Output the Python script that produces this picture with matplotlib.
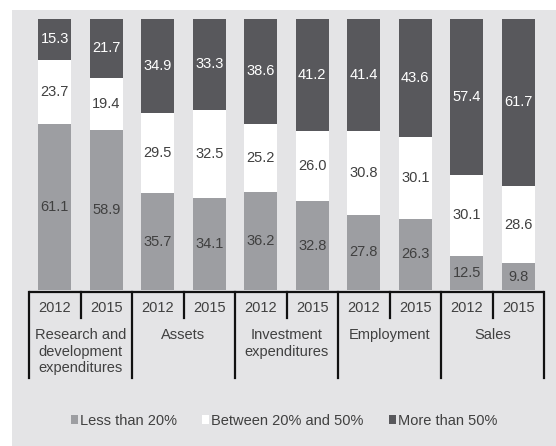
import matplotlib
matplotlib.use("Agg")
import matplotlib.pyplot as plt
from matplotlib.patches import Rectangle, Patch
from matplotlib.transforms import blended_transform_factory
import numpy as np

categories = ["Research and\ndevelopment\nexpenditures", "Assets",
              "Investment\nexpenditures", "Employment", "Sales"]
years = ["2012", "2015"]
less_20 = [61.1, 58.9, 35.7, 34.1, 36.2, 32.8, 27.8, 26.3, 12.5, 9.8]
between_20_50 = [23.7, 19.4, 29.5, 32.5, 25.2, 26.0, 30.8, 30.1, 30.1, 28.6]
more_50 = [15.3, 21.7, 34.9, 33.3, 38.6, 41.2, 41.4, 43.6, 57.4, 61.7]
series_names = ["Less than 20%", "Between 20% and 50%", "More than 50%"]

c_light = "#9d9ea2"
c_white = "#ffffff"
c_dark = "#58585c"
c_bg = "#e4e4e6"
c_text = "#404040"

W, H = 556, 446
fig = plt.figure(figsize=(W / 100, H / 100), dpi=100)
fig.patch.set_facecolor("white")
fig.patches.append(Rectangle((12 / W, 0), 1 - 12 / W, 1 - 10 / H,
                             transform=fig.transFigure, facecolor=c_bg,
                             edgecolor="none", zorder=-10))

ax = fig.add_axes([29 / W, 1 - 290 / H, 515 / W, 271 / H])
ax.set_facecolor("none")
for s in ax.spines.values():
    s.set_visible(False)
ax.set_xticks([])
ax.set_yticks([])

n = len(less_20)
x = np.arange(n)
width = 0.64
lo = np.array(less_20)
mid = np.array(between_20_50)
hi = np.array(more_50)

ax.bar(x, lo, width, color=c_light, label=series_names[0])
ax.bar(x, mid, width, bottom=lo, color=c_white, label=series_names[1])
ax.bar(x, hi, width, bottom=lo + mid, color=c_dark, label=series_names[2])
ax.set_xlim(-0.5, n - 0.5)
ax.set_ylim(0, 100)

fs = 10.5
family = "Liberation Sans"
for i in range(n):
    ax.text(x[i], lo[i] / 2, f"{lo[i]:.1f}", ha="center", va="center",
            fontsize=fs, color=c_text, family=family)
    ax.text(x[i], lo[i] + mid[i] / 2, f"{mid[i]:.1f}", ha="center", va="center",
            fontsize=fs, color=c_text, family=family)
    ax.text(x[i], lo[i] + mid[i] + hi[i] / 2, f"{hi[i]:.1f}", ha="center",
            va="center", fontsize=fs, color="white", family=family)

# Category/year table under the bars
tr = blended_transform_factory(ax.transData, ax.transAxes)
y_axis = -0.0074
y_short = -0.1033
y_long = -0.3247
lw = 1.6
ax.plot([-0.5, n - 0.5], [y_axis, y_axis], transform=tr, color="#111111",
        lw=lw, clip_on=False, solid_capstyle="butt")
for k in range(len(categories) + 1):
    xv = 2 * k - 0.5
    ax.plot([xv, xv], [y_axis, y_long], transform=tr, color="#111111",
            lw=lw, clip_on=False)
for k in range(len(categories)):
    xv = 2 * k + 0.5
    ax.plot([xv, xv], [y_axis, y_short], transform=tr, color="#111111",
            lw=lw, clip_on=False)
    for j, yr in enumerate(years):
        ax.text(2 * k + j, -0.0664, yr, transform=tr, ha="center", va="center",
                fontsize=fs, color=c_text, family=family)
    ax.text(2 * k + 0.5, -0.142, categories[k], transform=tr, ha="center",
            va="top", fontsize=fs, color=c_text, family=family,
            linespacing=1.2)

handles = [Patch(facecolor=c_light, edgecolor="none"),
           Patch(facecolor=c_white, edgecolor="none"),
           Patch(facecolor=c_dark, edgecolor="none")]
fig.legend(handles, series_names, loc="center", bbox_to_anchor=(0.511, 1 - 421 / H),
           ncol=3, frameon=False, handlelength=0.5, handleheight=0.6,
           handletextpad=0.15, columnspacing=1.7,
           prop={"family": family, "size": fs}, labelcolor=c_text)

fig.savefig("out.png", dpi=100, facecolor=fig.get_facecolor())
